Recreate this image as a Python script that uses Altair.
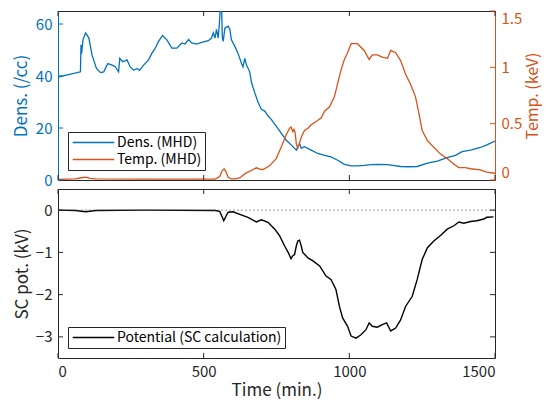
import altair as alt
import pandas as pd

# ---------------- data ----------------
t_dens = [0, 40, 77, 79, 81, 86, 95, 106, 117, 132, 146, 157, 171, 186, 197, 208, 212, 222, 230, 237,
          248, 260, 271, 280, 294, 311, 322, 334, 345, 359, 373, 391, 408, 425, 436, 448, 459, 476, 493,
          516, 527, 533, 539, 544, 550, 555, 558, 561, 564, 567, 573, 584, 590, 595, 607, 618, 630, 635,
          641, 647, 658, 664, 675, 687, 698, 710, 721, 732, 749, 766, 783, 800, 818, 829, 835, 846, 869,
          892, 915, 937, 960, 983, 1006, 1028, 1051, 1074, 1100, 1131, 1155, 1176, 1205, 1233, 1268, 1302,
          1336, 1364, 1387, 1416, 1450, 1472, 1500]
dens = [39.6, 40.6, 41.6, 52.0, 48.6, 54.0, 56.6, 54.6, 48.0, 42.9, 41.3, 41.6, 44.8, 44.2, 43.5, 41.6,
        46.8, 45.5, 45.8, 46.2, 43.5, 42.2, 42.9, 42.2, 44.2, 46.2, 48.7, 50.7, 53.3, 55.6, 54.0, 50.7,
        50.7, 52.7, 52.3, 54.0, 52.7, 52.3, 52.9, 53.6, 54.6, 56.6, 54.6, 57.9, 54.6, 62.0, 68.0, 68.0,
        55.0, 53.3, 58.5, 59.2, 57.9, 54.0, 51.4, 48.7, 44.8, 43.5, 46.8, 44.2, 41.6, 37.6, 33.7, 29.8,
        27.2, 26.5, 24.6, 23.3, 20.7, 18.0, 15.4, 13.5, 11.5, 14.1, 12.2, 12.8, 11.5, 10.2, 9.5, 8.9, 7.6,
        6.0, 5.4, 5.4, 5.6, 5.9, 6.0, 5.9, 5.5, 5.2, 5.1, 5.2, 6.5, 7.3, 8.6, 9.5, 10.9, 11.5, 12.5, 13.5,
        15.0]

t_temp = [0, 60, 80, 95, 110, 130, 300, 540, 555, 563, 570, 577, 584, 595, 610, 625, 641, 660, 681, 695,
          704, 727, 749, 766, 783, 795, 800, 806, 810, 814, 818, 823, 829, 835, 846, 858, 869, 886, 903,
          915, 932, 949, 960, 972, 983, 994, 1006, 1028, 1051, 1068, 1079, 1096, 1113, 1131, 1142, 1159,
          1176, 1193, 1210, 1227, 1239, 1250, 1268, 1290, 1313, 1336, 1359, 1376, 1398, 1416, 1450, 1472,
          1500]
temp = [0.005, 0.01, 0.02, 0.025, 0.015, 0.01, 0.008, 0.008, 0.03, 0.08, 0.10, 0.07, 0.024, 0.01, 0.01,
        0.02, 0.054, 0.08, 0.108, 0.095, 0.093, 0.128, 0.19, 0.29, 0.40, 0.46, 0.47, 0.43, 0.45, 0.42,
        0.32, 0.28, 0.33, 0.38, 0.44, 0.46, 0.49, 0.52, 0.55, 0.61, 0.65, 0.74, 0.86, 0.98, 1.07, 1.13,
        1.21, 1.21, 1.15, 1.07, 1.11, 1.11, 1.09, 1.08, 1.15, 1.13, 1.06, 0.94, 0.85, 0.74, 0.59, 0.44,
        0.35, 0.29, 0.23, 0.19, 0.14, 0.11, 0.11, 0.10, 0.09, 0.07, 0.06]

t_pot = [0, 60, 95, 130, 300, 540, 555, 563, 569, 576, 584, 601, 624, 652, 681, 698, 721, 744, 760, 778,
         790, 800, 806, 812, 818, 823, 829, 835, 840, 858, 875, 898, 910, 920, 937, 954, 966, 977, 994,
         1006, 1023, 1040, 1057, 1068, 1079, 1096, 1113, 1128, 1142, 1159, 1176, 1193, 1216, 1233, 1250,
         1268, 1290, 1313, 1336, 1359, 1376, 1393, 1416, 1438, 1461, 1472, 1495]
pot = [0.0, -0.01, -0.04, -0.01, 0.0, -0.01, -0.03, -0.15, -0.25, -0.15, -0.05, -0.04, -0.10, -0.17,
       -0.28, -0.23, -0.29, -0.45, -0.60, -0.85, -1.00, -1.15, -1.08, -1.05, -0.85, -0.73, -0.71, -0.85,
       -1.00, -1.13, -1.20, -1.32, -1.45, -1.56, -1.64, -1.88, -2.28, -2.55, -2.75, -2.98, -3.03, -2.95,
       -2.83, -2.67, -2.75, -2.77, -2.71, -2.67, -2.86, -2.79, -2.60, -2.28, -2.04, -1.64, -1.17, -0.89,
       -0.73, -0.60, -0.45, -0.37, -0.28, -0.31, -0.27, -0.25, -0.21, -0.17, -0.16]

x_ticks = [0, 500, 1000, 1500]
dens_ticks = [0, 20, 40, 60]
temp_ticks = [0, 0.5, 1, 1.5]
pot_ticks = [-3, -2, -1, 0]

series_top = ["Dens. (MHD)", "Temp. (MHD)"]
series_bot = ["Potential (SC calculation)"]

# ---------------- styling ----------------
BLUE = "#0072BD"
ORANGE = "#D95319"
AX = "#262626"
FONT = "Noto Sans CJK JP"
W, H = 437, 169
TL = 5  # inward tick length

xs = alt.Scale(domain=[0, 1500], nice=False, zero=False)
dens_scale = alt.Scale(domain=[0, 65], nice=False)
temp_scale = alt.Scale(domain=[0, 1.5], nice=False)
pot_scale = alt.Scale(domain=[-3.5, 0.5], nice=False)

dens_df = pd.DataFrame({"t": t_dens, "v": dens, "s": series_top[0]})
temp_df = pd.DataFrame({"t": t_temp, "v": temp, "s": series_top[1]})
pot_df = pd.DataFrame({"t": t_pot, "v": pot, "s": series_bot[0]})


def legend():
    return alt.Legend(title=None, orient="bottom-left", offset=10, symbolType="M-3.2,0H3.2",
                      symbolSize=169, symbolStrokeWidth=1.5, symbolOffset=15,
                      symbolFillColor="transparent",
                      labelFontSize=14, labelFont=FONT, labelOffset=16, labelLimit=400,
                      labelColor="#000", strokeColor=AX, fillColor="white", padding=3,
                      rowPadding=2, direction="vertical")


color_top = alt.Color("s:N", scale=alt.Scale(domain=series_top, range=[BLUE, ORANGE]), legend=legend())
color_bot = alt.Color("s:N", scale=alt.Scale(domain=series_bot, range=["#000000"]), legend=legend())

dens_line = alt.Chart(dens_df).mark_line(strokeWidth=1.3, clip=True).encode(
    x=alt.X("t:Q", scale=xs, axis=None),
    y=alt.Y("v:Q", scale=dens_scale,
            axis=alt.Axis(orient="left", values=dens_ticks, title="Dens. (/cc)", ticks=False,
                          grid=False, domainColor=BLUE, labelColor=BLUE, titleColor=BLUE,
                          labelPadding=6, titlePadding=5, format="d")),
    color=color_top,
)
temp_line = alt.Chart(temp_df).mark_line(strokeWidth=1.3, clip=True).encode(
    x=alt.X("t:Q", scale=xs, axis=None),
    y=alt.Y("v:Q", scale=temp_scale,
            axis=alt.Axis(orient="right", values=temp_ticks, title="Temp. (keV)", ticks=False,
                          grid=False, domainColor=ORANGE, labelColor=ORANGE, titleColor=ORANGE,
                          labelPadding=6, titlePadding=3, titleAngle=270, titleBaseline="top",
                          titleFontSize=16, labelFlush=True, format="~g")),
    color=color_top,
)

dens_tk = alt.Chart(pd.DataFrame({"v": dens_ticks})).mark_rule(color=BLUE, strokeWidth=1).encode(
    y=alt.Y("v:Q", scale=dens_scale, axis=None), x=alt.value(0), x2=alt.value(TL))
temp_tk = alt.Chart(pd.DataFrame({"v": temp_ticks})).mark_rule(color=ORANGE, strokeWidth=1).encode(
    y=alt.Y("v:Q", scale=temp_scale, axis=None), x=alt.value(W - TL), x2=alt.value(W))

x_axis_bottom = alt.Axis(values=x_ticks, title="Time (min.)", ticks=False, grid=False,
                         domain=False, labelPadding=6, titlePadding=3, labelColor=AX,
                         titleColor=AX, format="d")


def xticks(height, axis):
    d = pd.DataFrame({"t": x_ticks})
    top = alt.Chart(d).mark_rule(color=AX, strokeWidth=1).encode(
        x=alt.X("t:Q", scale=xs, axis=axis), y=alt.value(0), y2=alt.value(TL))
    bot = alt.Chart(d).mark_rule(color=AX, strokeWidth=1).encode(
        x=alt.X("t:Q", scale=xs, axis=axis), y=alt.value(height - TL), y2=alt.value(height))
    return top, bot


xt1, xb1 = xticks(H, None)
top = alt.layer(dens_line, temp_line, dens_tk, temp_tk, xt1, xb1).resolve_scale(
    y="independent").properties(width=W, height=H)

pot_y_axis = alt.Axis(orient="left", values=pot_ticks, title="SC pot. (kV)", ticks=False,
                      grid=False, domain=False, labelPadding=6, titlePadding=4,
                      labelColor=AX, titleColor=AX, format="d")

pot_line = alt.Chart(pot_df).mark_line(strokeWidth=1.4, color="black").encode(
    x=alt.X("t:Q", scale=xs, axis=x_axis_bottom),
    y=alt.Y("v:Q", scale=pot_scale, axis=pot_y_axis),
    color=color_bot,
)
zero = alt.Chart(pd.DataFrame({"z": [0]})).mark_rule(
    color="#555555", strokeWidth=0.6, strokeDash=[2, 2]).encode(
    y=alt.Y("z:Q", scale=pot_scale, axis=pot_y_axis))
pd_ticks = pd.DataFrame({"v": pot_ticks})
pot_tl = alt.Chart(pd_ticks).mark_rule(color=AX).encode(
    y=alt.Y("v:Q", scale=pot_scale, axis=pot_y_axis), x=alt.value(0), x2=alt.value(TL))
pot_tr = alt.Chart(pd_ticks).mark_rule(color=AX).encode(
    y=alt.Y("v:Q", scale=pot_scale, axis=pot_y_axis), x=alt.value(W - TL), x2=alt.value(W))
xt2, xb2 = xticks(H, x_axis_bottom)
bottom = alt.layer(pot_line, zero, pot_tl, pot_tr, xt2, xb2).properties(width=W, height=H)

chart = alt.vconcat(top, bottom, spacing=9, bounds="flush").resolve_scale(
    color="independent").properties(
    padding={"left": 3, "top": 2, "right": 0, "bottom": 0}
).configure(font=FONT).configure_view(stroke=AX, strokeWidth=1).configure_axis(
    labelFontSize=15, titleFontSize=17, titleFontWeight="normal", labelFont=FONT, titleFont=FONT,
    domainWidth=1
)

chart.save("out.html", embed_options={"renderer": "svg", "actions": False})
